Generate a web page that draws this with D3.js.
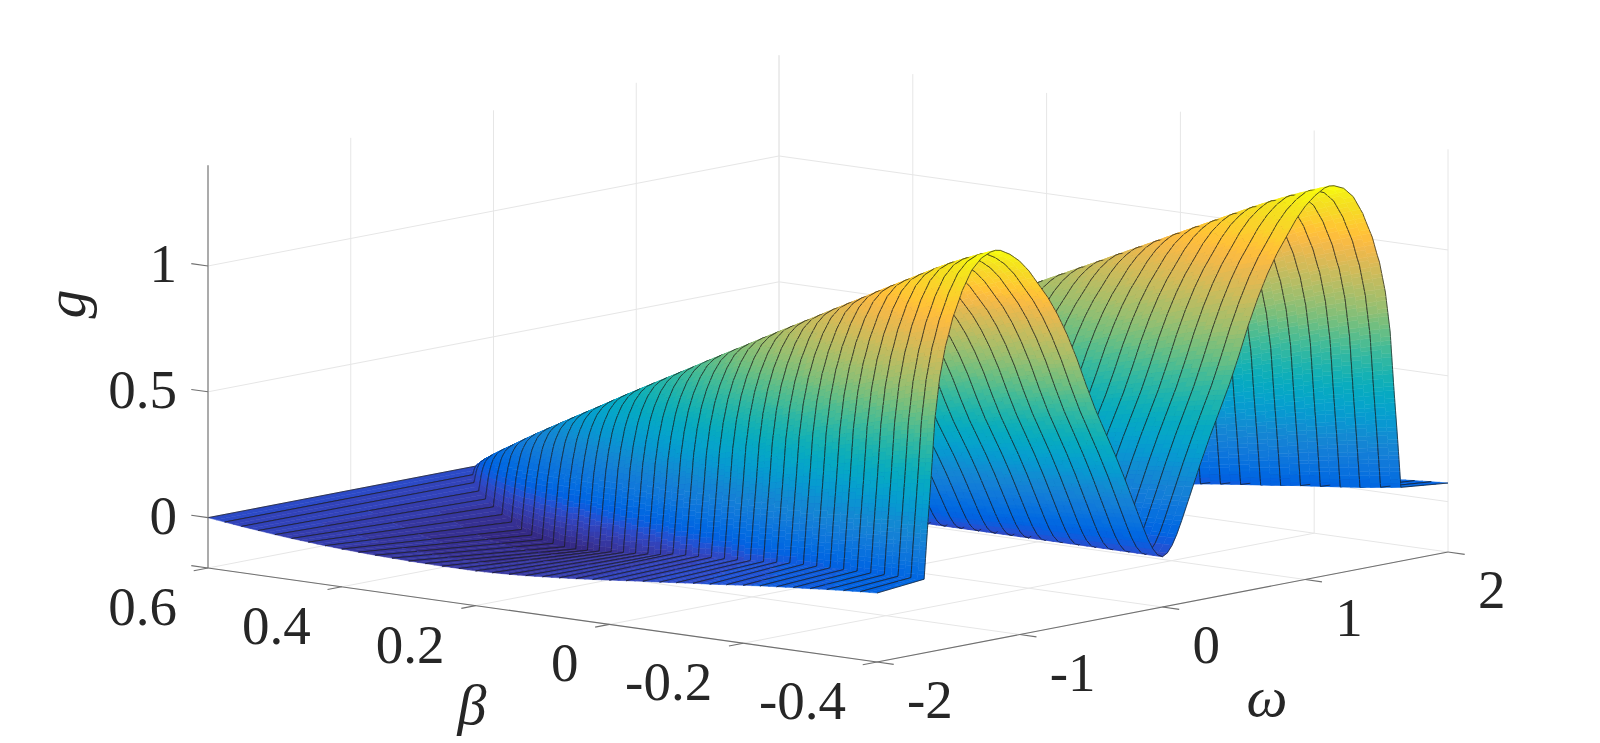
<!DOCTYPE html>
<html><head><meta charset="utf-8">
<style>html,body{margin:0;padding:0;background:#fff}svg{display:block}text{font-family:"Liberation Serif","Times New Roman",serif;fill:#262626}</style>
<script src="https://cdn.jsdelivr.net/npm/d3@7"></script></head><body>
<script>
// ---- values ----
const betaLines=[0.6,0.575,0.55,0.525,0.5,0.475,0.45,0.425,0.4,0.375,0.35,0.325,0.3,0.275,0.25,0.225,0.2,0.175,0.15,0.125,0.1,0.075,0.05,0.025,0,-0.025,-0.05,-0.075,-0.1,-0.125,-0.15,-0.175,-0.2,-0.225,-0.25,-0.275,-0.3,-0.325,-0.35,-0.375,-0.4];
const archHalfWidth=[0.11,0.262,0.371,0.455,0.525,0.587,0.643,0.694,0.742,0.787,0.83,0.871,0.909,0.946,0.982,1.017,1.05,1.082,1.114,1.144,1.174,1.203,1.231,1.259,1.286,1.312,1.338,1.364,1.389,1.413,1.438,1.461,1.485,1.508,1.531,1.553,1.575,1.597,1.618,1.645,1.67];
const ridgeHeight=[0,0.034,0.068,0.102,0.136,0.17,0.205,0.24,0.274,0.308,0.342,0.376,0.41,0.445,0.48,0.514,0.548,0.582,0.616,0.65,0.685,0.719,0.753,0.787,0.822,0.856,0.89,0.924,0.958,0.993,1.027,1.061,1.096,1.13,1.164,1.198,1.232,1.264,1.293,1.32,1.345];
const rimLevel=[0,-0.008,-0.016,-0.023,-0.03,-0.036,-0.041,-0.046,-0.05,-0.053,-0.056,-0.058,-0.06,-0.061,-0.062,-0.062,-0.062,-0.06,-0.057,-0.053,-0.048,-0.043,-0.037,-0.031,-0.024,-0.017,-0.01,-0.004,0.003,0.01,0.016,0.023,0.03,0.037,0.043,0.049,0.054,0.06,0.065,0.07,0.074];
const footLevel=[0,-0.01,-0.02,-0.035,-0.05,-0.065,-0.08,-0.095,-0.11,-0.118,-0.122,-0.123,-0.123,-0.118,-0.11,-0.1,-0.09,-0.08,-0.07,-0.06,-0.05,-0.035,-0.027,-0.02,-0.012,-0.005,0.003,0.012,0.02,0.03,0.039,0.045,0.05,0.055,0.06,0.066,0.07,0.075,0.08,0.087,0.093];
const archPos=[0,0.02,0.04,0.06,0.08,0.12,0.16,0.2,0.24,0.28,0.32,0.36,0.4,0.44,0.48,0.52,0.56,0.6,0.64,0.68,0.7,0.72,0.76,0.8,0.84,0.88,0.91,0.935,0.955,0.97,0.985,1];
const archShape=[0,0.008,0.028,0.058,0.095,0.175,0.255,0.33,0.4,0.47,0.55,0.635,0.71,0.775,0.83,0.875,0.92,0.955,0.98,0.997,1,0.998,0.985,0.955,0.9,0.82,0.735,0.63,0.5,0.33,0.17,0];
const footPos=[0,0.85,0.9,0.97,1];
const footShare=[0,0,0.1,0.6,1];
const rimPos=[0,0.25,0.5,0.75,1];
const gTicks=[0,0.5,1], gTickLabels=["0","0.5","1"];
const betaTicks=[0.6,0.4,0.2,0,-0.2,-0.4], betaTickLabels=["0.6","0.4","0.2","0","-0.2","-0.4"];
const omegaTicks=[-2,-1,0,1,2], omegaTickLabels=["-2","-1","0","1","2"];
const parula=[[.2081,.1663,.5292],[.2116,.1898,.5777],[.2123,.2138,.6270],[.2081,.2386,.6771],[.1959,.2645,.7279],[.1707,.2919,.7792],[.1253,.3242,.8303],[.0591,.3598,.8683],[.0117,.3875,.8820],[.0060,.4086,.8828],[.0165,.4266,.8786],[.0329,.4430,.8720],[.0498,.4586,.8641],[.0629,.4737,.8554],[.0723,.4887,.8467],[.0779,.5040,.8384],[.0793,.5200,.8312],[.0749,.5375,.8263],[.0641,.5570,.8240],[.0488,.5772,.8228],[.0343,.5966,.8199],[.0265,.6137,.8135],[.0239,.6287,.8038],[.0231,.6418,.7913],[.0228,.6535,.7768],[.0267,.6642,.7607],[.0384,.6743,.7436],[.0590,.6838,.7254],[.0843,.6928,.7062],[.1133,.7015,.6859],[.1453,.7098,.6646],[.1801,.7177,.6424],[.2178,.7250,.6193],[.2586,.7317,.5954],[.3022,.7376,.5712],[.3482,.7424,.5473],[.3953,.7459,.5244],[.4420,.7481,.5033],[.4871,.7491,.4840],[.5300,.7491,.4661],[.5709,.7485,.4494],[.6099,.7473,.4337],[.6473,.7456,.4188],[.6834,.7435,.4044],[.7184,.7411,.3905],[.7525,.7384,.3768],[.7858,.7356,.3633],[.8185,.7327,.3498],[.8507,.7299,.3360],[.8824,.7274,.3217],[.9139,.7258,.3063],[.9450,.7261,.2886],[.9739,.7314,.2666],[.9938,.7455,.2403],[.9990,.7653,.2164],[.9955,.7861,.1967],[.9880,.8066,.1794],[.9789,.8271,.1633],[.9697,.8481,.1475],[.9626,.8705,.1309],[.9589,.8949,.1132],[.9598,.9218,.0948],[.9661,.9514,.0755],[.9763,.9831,.0538]];

// ---- scales: an orthographic box built of linear scales ----
const W=1600,H=743;
const xO=d3.scaleLinear([-2,2],[0,571]), yO=d3.scaleLinear([-2,2],[0,-110]);
const xB=d3.scaleLinear([0.6,-0.4],[0,669]), yB=d3.scaleLinear([0.6,-0.4],[0,94]);
const yG=d3.scaleLinear([-0.2,1.4],[568,165.3]);
const X0=208;
const P=(o,b,g)=>[X0+xO(o)+xB(b), yG(g)+yO(o)+yB(b)];
const color=d3.scaleQuantize([-0.123,1.345],parula.map(c=>d3.rgb(c[0]*255,c[1]*255,c[2]*255).formatHex()));
const shapeAt=d3.scaleLinear(archPos,archShape), footAt=d3.scaleLinear(footPos,footShare);

const svg=d3.select("body").append("svg").attr("width",W).attr("height",H).attr("viewBox",`0 0 ${W} ${H}`);

// ---- grid on the back walls and floor ----
const grid=svg.append("g").attr("stroke","#e6e6e6").attr("stroke-width",1).attr("fill","none");
const seg=(g,a,b)=>g.append("line").attr("x1",a[0]).attr("y1",a[1]).attr("x2",b[0]).attr("y2",b[1]);
omegaTicks.forEach(o=>{ seg(grid,P(o,0.6,-0.2),P(o,0.6,1.4)); seg(grid,P(o,0.6,-0.2),P(o,-0.4,-0.2)); });
betaTicks.forEach(b=>{ seg(grid,P(2,b,-0.2),P(2,b,1.4)); seg(grid,P(-2,b,-0.2),P(2,b,-0.2)); });
gTicks.forEach(g=>{ seg(grid,P(-2,0.6,g),P(2,0.6,g)); seg(grid,P(2,0.6,g),P(2,-0.4,g)); });

// ---- columns across each constant-beta line, far (+omega) to near ----
let archSteps=[];
for(let k=0;k<archPos.length-1;k++){
  const n=Math.max(1,Math.ceil(Math.abs(archShape[k+1]-archShape[k])/0.014));
  for(let j=0;j<n;j++) archSteps.push(archPos[k]+(archPos[k+1]-archPos[k])*j/n);
}
archSteps.push(1);
const cols=[];
rimPos.slice().reverse().forEach(v=>cols.push({sign:1,rim:v}));
archSteps.slice().reverse().slice(1).forEach(s=>cols.push({sign:1,s}));
archSteps.slice(1).forEach(s=>cols.push({sign:-1,s}));
rimPos.slice(1).forEach(v=>cols.push({sign:-1,rim:v}));
function vertex(i,c){
  const a=archHalfWidth[i], b=betaLines[i];
  if(c.rim!==undefined){
    return {o:c.sign*(a+(2-a)*c.rim), g:footLevel[i]+(rimLevel[i]-footLevel[i])*c.rim, b};
  }
  return {o:c.sign*a*c.s, g:ridgeHeight[i]*shapeAt(c.s)+footLevel[i]*footAt(c.s), b};
}
// a point part way between two neighbouring beta lines, used only to shade the band smoothly
const mix=(u,v,f)=>({o:u.o+(v.o-u.o)*f,b:u.b+(v.b-u.b)*f,g:u.g+(v.g-u.g)*f});
const pt=v=>P(v.o,v.b,v.g);
const line=d3.line();

// ---- surface, painted far to near ----
const surf=svg.append("g");
function addLine(points){ surf.append("path").attr("d",line(points)).attr("fill","none").attr("stroke","#1a1a1a").attr("stroke-width",0.7).attr("stroke-linejoin","round"); }
function quadPath(q){
  const area=d3.polygonArea(q);
  return line(area<0?q.slice().reverse():q)+"Z";
}
const SUB=2;
for(let i=0;i<betaLines.length-1;i++){
  const rowA=cols.map(c=>vertex(i,c)), rowB=cols.map(c=>vertex(i+1,c));
  for(let k=0;k<SUB;k++){
    const f0=k/SUB,f1=(k+1)/SUB;
    let run=null;
    const flush=()=>{
      if(!run) return;
      surf.append("path").attr("d",run.d).attr("fill",run.col).attr("stroke",run.col).attr("stroke-width",0.5).attr("stroke-linejoin","round");
      if(k===0) addLine(run.far);
      if(k===SUB-1) addLine(run.near);
      run=null;
    };
    for(let j=0;j<cols.length-1;j++){
      const a=mix(rowA[j],rowB[j],f0),b=mix(rowA[j+1],rowB[j+1],f0),c=mix(rowA[j+1],rowB[j+1],f1),d=mix(rowA[j],rowB[j],f1);
      const col=color((a.g+b.g+c.g+d.g)/4);
      if(!run||run.col!==col){ flush(); run={col,d:"",far:[pt(a)],near:[pt(d)]}; }
      run.d+=quadPath([pt(a),pt(b),pt(c),pt(d)]);
      run.far.push(pt(b)); run.near.push(pt(c));
    }
    flush();
  }
}

// ---- axes ----
const axis=svg.append("g").attr("stroke","#707070").attr("stroke-width",1.1).attr("fill","none");
seg(axis,P(-2,0.6,-0.2),P(-2,0.6,1.4));
seg(axis,P(-2,0.6,-0.2),P(-2,-0.4,-0.2));
seg(axis,P(-2,-0.4,-0.2),P(2,-0.4,-0.2));
gTicks.forEach(g=>seg(axis,P(-2,0.6,g),P(-2,0.625,g)));
seg(axis,P(-2,0.6,-0.2),P(-2,0.625,-0.2));
betaTicks.forEach(b=>seg(axis,P(-2,b,-0.2),P(-2.1,b,-0.2)));
omegaTicks.forEach(o=>seg(axis,P(o,-0.4,-0.2),P(o,-0.425,-0.2)));

const lab=svg.append("g").attr("font-size",55);
gTicks.forEach((g,i)=>{const p=P(-2,0.6,g);lab.append("text").attr("x",p[0]-31).attr("y",p[1]+16).attr("text-anchor","end").text(gTickLabels[i]);});
betaTicks.forEach((b,i)=>{const p=P(-2,b,-0.2);lab.append("text").attr("x",p[0]-31).attr("y",p[1]+57).attr("text-anchor","end").text(betaTickLabels[i]);});
omegaTicks.forEach((o,i)=>{const p=P(o,-0.4,-0.2);lab.append("text").attr("x",p[0]+30).attr("y",p[1]+56).attr("text-anchor","start").text(omegaTickLabels[i]);});
const ital=svg.append("g").attr("font-size",58).attr("font-style","italic");
ital.append("text").attr("transform","translate(85,304) rotate(-90)").attr("text-anchor","middle").text("g");
ital.append("text").attr("x",472).attr("y",724).attr("text-anchor","middle").text("β");
ital.append("text").attr("x",1267).attr("y",716).attr("text-anchor","middle").text("ω");
</script></body></html>
